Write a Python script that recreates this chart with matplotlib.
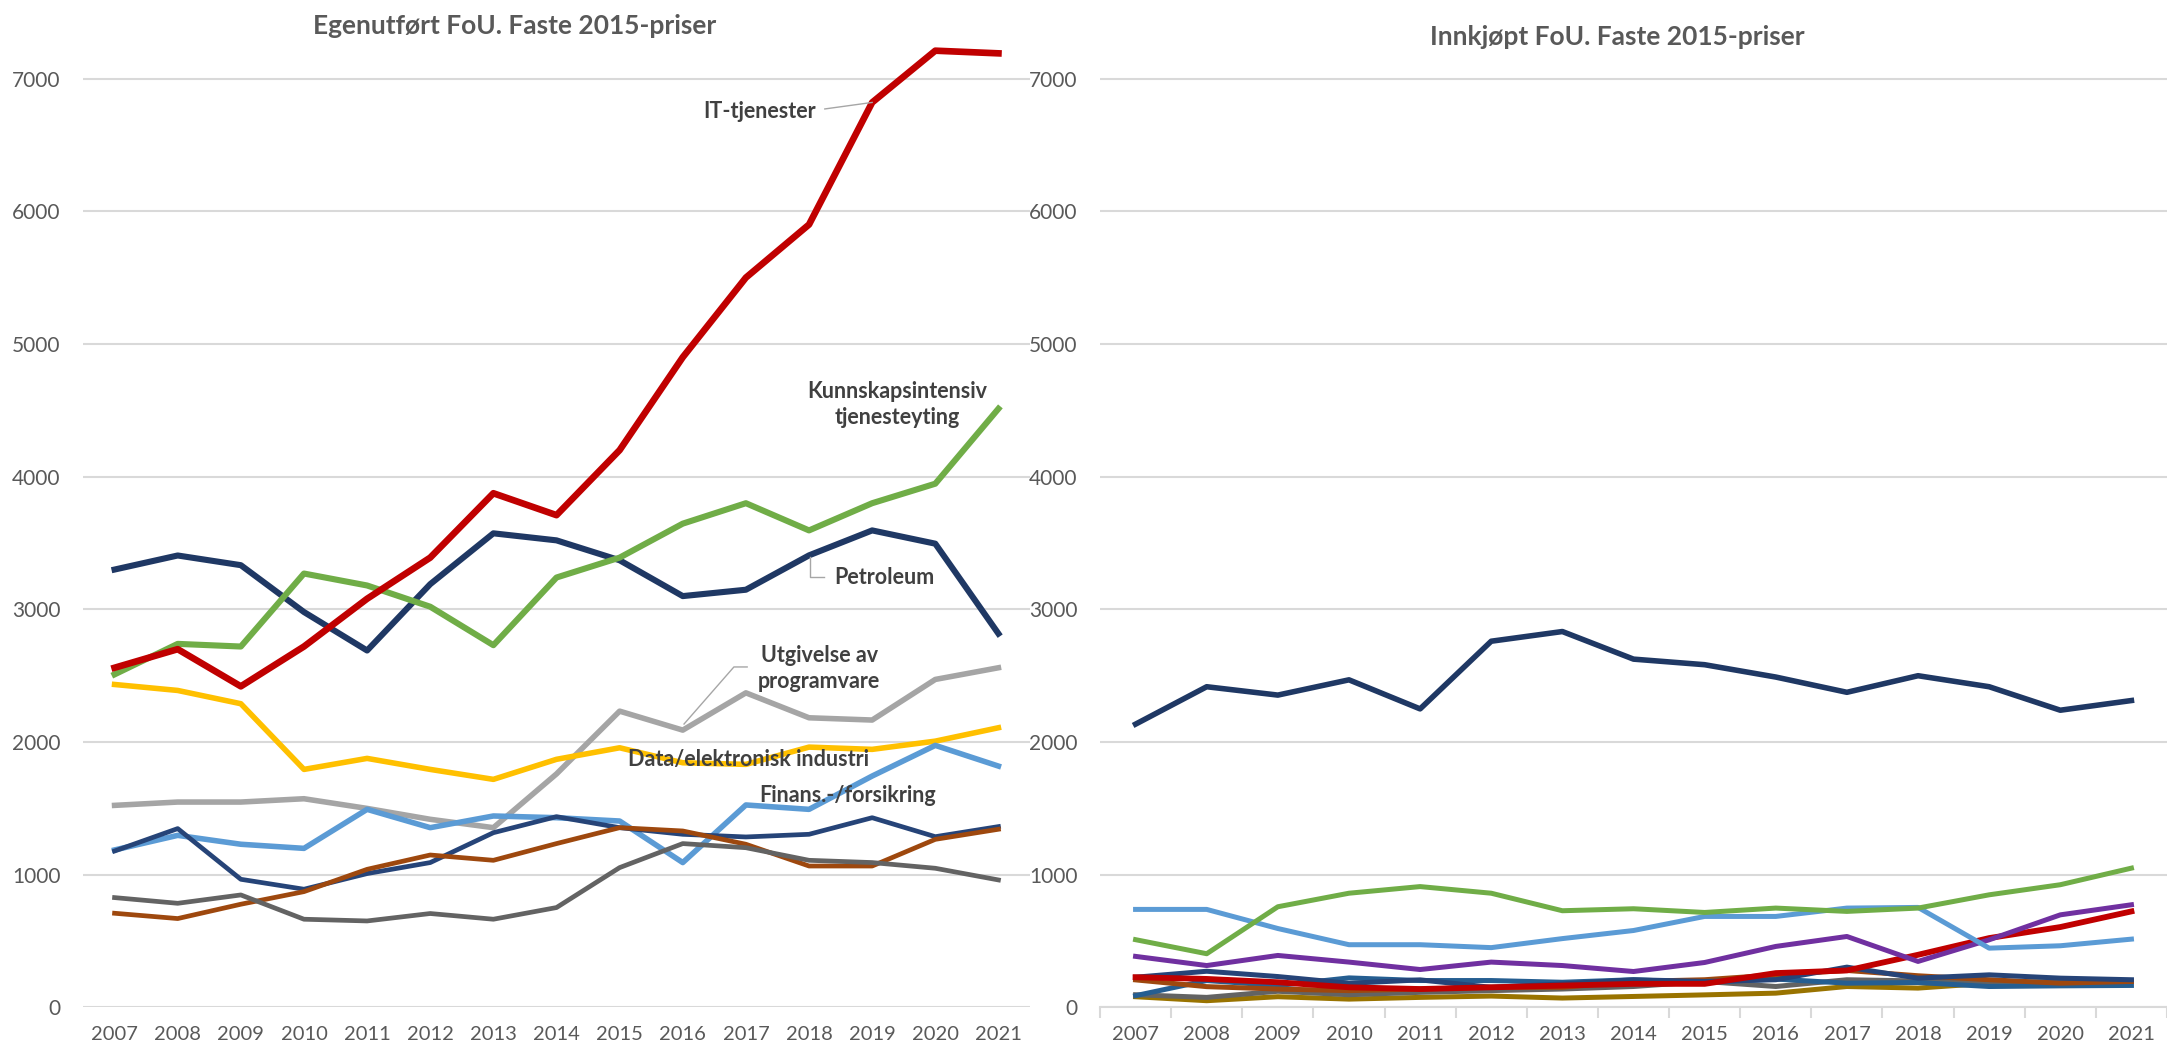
import matplotlib
matplotlib.use("Agg")
import matplotlib.pyplot as plt

plt.rcParams['font.family'] = ['Lato', 'DejaVu Sans']

years = list(range(2007, 2022))

# Egenutført FoU
it_egen = [2560, 2700, 2420, 2720, 3080, 3390, 3875, 3710, 4200, 4900, 5500, 5900, 6820, 7210, 7190]
kunn_egen = [2510, 2740, 2720, 3270, 3180, 3020, 2730, 3240, 3390, 3646, 3800, 3595, 3800, 3947, 4512]
petro_egen = [3300, 3406, 3333, 2980, 2690, 3190, 3573, 3520, 3370, 3100, 3148, 3407, 3595, 3495, 2817]
prog_egen = [1523, 1548, 1548, 1573, 1500, 1418, 1355, 1760, 2233, 2090, 2371, 2183, 2166, 2472, 2560]
data_egen = [2434, 2389, 2289, 1794, 1877, 1794, 1719, 1870, 1957, 1844, 1832, 1962, 1945, 2007, 2108]
finans_egen = [1187, 1297, 1230, 1199, 1493, 1355, 1443, 1430, 1405, 1092, 1526, 1493, 1744, 1975, 1819]
navy2_egen = [1179, 1348, 966, 891, 1009, 1092, 1317, 1438, 1355, 1305, 1285, 1305, 1430, 1287, 1363]
brown_egen = [710, 670, 778, 873, 1041, 1149, 1109, 1235, 1355, 1330, 1230, 1066, 1066, 1267, 1343]
dgray_egen = [828, 785, 848, 665, 652, 708, 665, 753, 1054, 1235, 1204, 1109, 1092, 1049, 961]

# Innkjøpt FoU
petro_inn = [2135, 2417, 2354, 2469, 2250, 2760, 2833, 2625, 2583, 2490, 2375, 2500, 2417, 2240, 2313]
kunn_inn = [511, 405, 759, 861, 911, 861, 729, 744, 716, 749, 724, 749, 849, 925, 1050]
finans_inn = [739, 739, 595, 473, 473, 451, 519, 580, 686, 686, 749, 754, 447, 465, 515]
purple_inn = [385, 316, 392, 342, 286, 342, 316, 271, 339, 460, 535, 347, 510, 698, 774]
it_inn = [228, 215, 190, 152, 139, 152, 165, 178, 178, 259, 279, 397, 523, 606, 724]
navy2_inn = [228, 273, 233, 182, 208, 152, 177, 209, 196, 209, 304, 221, 246, 221, 209]
brown_inn = [208, 157, 139, 127, 139, 152, 152, 196, 209, 246, 279, 239, 209, 183, 196]
steel_inn = [89, 203, 165, 223, 203, 203, 190, 209, 188, 214, 183, 188, 158, 163, 166]
dgray_inn = [96, 76, 122, 96, 114, 127, 139, 158, 196, 158, 209, 200, 190, 190, 200]
gold_inn = [81, 51, 81, 63, 76, 86, 71, 83, 95, 108, 158, 146, 183, 196, 196]

yticks = list(range(0, 8000, 1000))

TXT = '#595959'
LAB = '#404040'
GRID = '#D9D9D9'


def style_axis(ax, xmax):
    ax.set_xlim(2006.5, xmax)
    ax.set_ylim(0, 7300)
    ax.set_yticks(yticks)
    ax.set_xticks(years)
    ax.set_xticklabels([str(y) for y in years])
    ax.grid(axis='y', color=GRID, lw=1.5, zorder=0)
    ax.set_axisbelow(True)
    for s in ax.spines.values():
        s.set_visible(False)
    ax.tick_params(axis='y', length=0, labelsize=15, labelcolor=TXT, pad=16)
    ax.tick_params(axis='x', length=0, labelsize=14.5, labelcolor=TXT, pad=13)


fig = plt.figure(figsize=(21.67, 10.5), dpi=100)
ax1 = fig.add_axes([83 / 2167, 0.0405, (1030 - 83) / 2167, 0.9226])
ax2 = fig.add_axes([1100 / 2167, 0.0405, (2167 - 1100) / 2167, 0.9226])

# left panel
style_axis(ax1, 2021.5)
ax1.plot(years, prog_egen, color='#A5A5A5', lw=4.0)
ax1.plot(years, data_egen, color='#FFC000', lw=4.0)
ax1.plot(years, finans_egen, color='#5B9BD5', lw=4.0)
ax1.plot(years, navy2_egen, color='#264478', lw=3.4)
ax1.plot(years, brown_egen, color='#9E480E', lw=3.4)
ax1.plot(years, dgray_egen, color='#636363', lw=3.4)
ax1.plot(years, petro_egen, color='#1F3864', lw=4.4)
ax1.plot(years, kunn_egen, color='#70AD47', lw=4.4)
ax1.plot(years, it_egen, color='#C00000', lw=4.8, clip_on=False)

lab = dict(color=LAB, fontsize=15.5, fontweight='bold')
ax1.text(2018.11, 6752, 'IT-tjenester', ha='right', va='center', **lab)
ax1.plot([2018.25, 2019.0], [6771, 6820], color='#A6A6A6', lw=1)
ax1.text(2019.40, 4544, 'Kunnskapsintensiv\ntjenesteyting', ha='center', va='center',
         linespacing=1.3, **lab)
ax1.text(2018.40, 3237, 'Petroleum', ha='left', va='center', **lab)
ax1.plot([2018.02, 2018.02, 2018.24], [3395, 3244, 3244], color='#A6A6A6', lw=1)
ax1.text(2018.16, 2555, 'Utgivelse av\nprogramvare', ha='center', va='center',
         linespacing=1.3, **lab)
ax1.plot([2016.02, 2016.81, 2017.02], [2136, 2566, 2566], color='#A6A6A6', lw=1)
ax1.text(2017.04, 1865, 'Data/elektronisk industri', ha='center', va='center', **lab)
ax1.text(2018.61, 1601, 'Finans.-/forsikring', ha='center', va='center', **lab)

# right panel
style_axis(ax2, 2021.39)
ax2.spines['bottom'].set_visible(True)
ax2.spines['bottom'].set_color(GRID)
ax2.spines['bottom'].set_linewidth(1.5)
ax2.set_xticks([y + 0.5 for y in range(2006, 2022)], minor=True)
ax2.tick_params(axis='x', which='minor', length=8, color=GRID, width=1.5, direction='out')
ax2.plot(years, gold_inn, color='#997300', lw=3.6)
ax2.plot(years, dgray_inn, color='#636363', lw=3.6)
ax2.plot(years, steel_inn, color='#255E91', lw=3.6)
ax2.plot(years, brown_inn, color='#9E480E', lw=3.6)
ax2.plot(years, navy2_inn, color='#264478', lw=3.6)
ax2.plot(years, it_inn, color='#C00000', lw=4.2)
ax2.plot(years, purple_inn, color='#7030A0', lw=3.6)
ax2.plot(years, finans_inn, color='#5B9BD5', lw=3.6)
ax2.plot(years, kunn_inn, color='#70AD47', lw=3.6)
ax2.plot(years, petro_inn, color='#1F3864', lw=4.0)

fig.text(515 / 2167, 1 - 26 / 1050, 'Egenutført FoU. Faste 2015-priser', ha='center',
         va='center', fontsize=19, fontweight='bold', color=TXT)
fig.text(1617 / 2167, 1 - 37 / 1050, 'Innkjøpt FoU. Faste 2015-priser', ha='center',
         va='center', fontsize=19, fontweight='bold', color=TXT)

fig.savefig('out.png', dpi=100)
